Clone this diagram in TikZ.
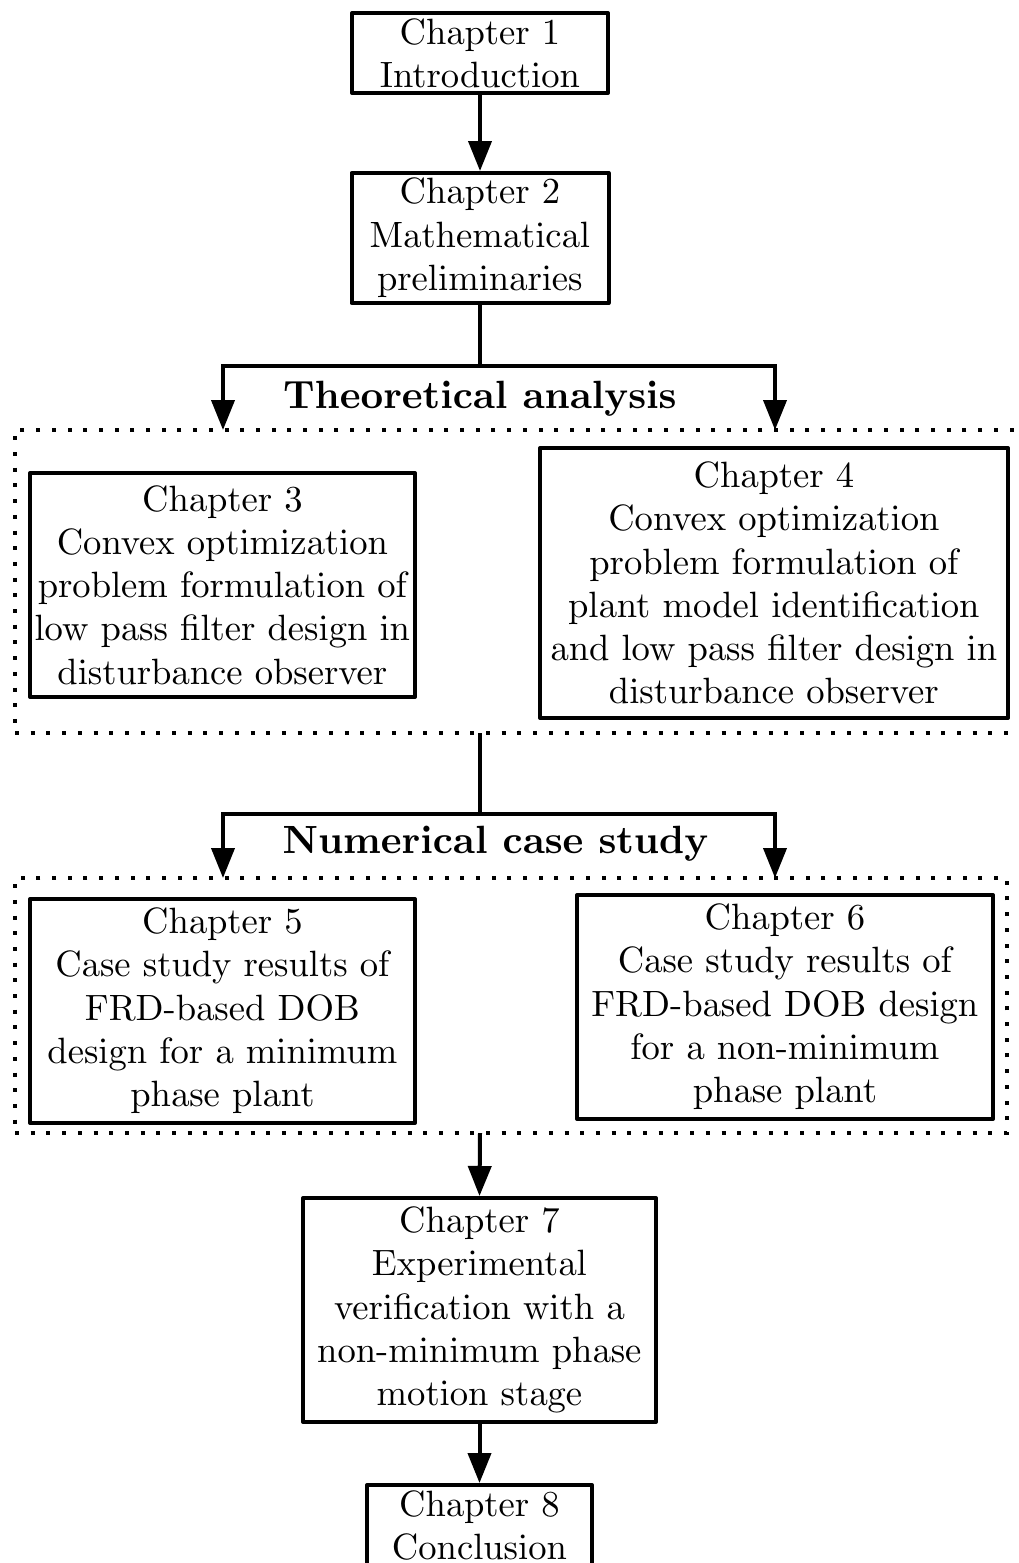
\documentclass[tikz,border=0pt]{standalone}
\usetikzlibrary{arrows.meta}
\font\chapfont=cmr10 at 18.3pt
\font\headfont=cmbx10 at 19.7pt
\begin{document}
\begin{tikzpicture}[x=0.5pt,y=-0.5pt,
  chap/.style={draw,line width=2pt,align=center,inner sep=0pt,line join=round,
    font=\fontsize{18.3}{21.6}\selectfont\chapfont},
  grp/.style={draw,line width=2pt,dash pattern=on 2pt off 5.85pt,inner sep=0pt},
  conn/.style={line width=2pt},
  arr/.style={conn,-{Triangle[width=11.5pt,length=15pt]}},
  head/.style={font=\headfont,anchor=base,inner sep=0pt}]
\useasboundingbox (0,0) rectangle (1018,1563);
% chapter boxes
\node[chap,minimum width=128pt,minimum height=40pt] (b1) at (480,53) {Chapter 1\\Introduction};
\node[chap,minimum width=128.5pt,minimum height=65pt] (b2) at (480,238) {Chapter 2\\Mathematical\\preliminaries};
\node[chap,minimum width=192.5pt,minimum height=112pt] (b3) at (222.5,585) {Chapter 3\\Convex optimization\\problem formulation of\\low pass filter design in\\disturbance observer};
\node[chap,minimum width=234pt,minimum height=135pt] (b4) at (774,583) {Chapter 4\\Convex optimization\\problem formulation of\\plant model identification\\and low pass filter design in\\disturbance observer};
\node[chap,minimum width=192.5pt,minimum height=112pt] (b5) at (222.5,1011) {Chapter 5\\Case study results of\\FRD-based DOB\\design for a minimum\\phase plant};
\node[chap,minimum width=208pt,minimum height=112pt] (b6) at (785,1007) {Chapter 6\\Case study results of\\FRD-based DOB design\\for a non-minimum\\phase plant};
\node[chap,minimum width=176.5pt,minimum height=112pt] (b7) at (479.5,1310) {Chapter 7\\Experimental\\verification with a\\non-minimum phase\\motion stage};
\node[chap,minimum width=112.5pt,minimum height=40pt] (b8) at (479.5,1525) {Chapter 8\\Conclusion};
% dotted groups
\node[grp,minimum width=507.5pt,minimum height=151.5pt] (g1) at (522.5,581.5) {};
\node[grp,minimum width=496pt,minimum height=127.5pt] (g2) at (511,1005.5) {};
% headings
\node[head] (h1) at (480,408) {Theoretical analysis};
\node[head] (h2) at (495.5,853) {Numerical case study};
% junctions
\coordinate (j1) at (480,366);
\coordinate (t3) at (223,430);
\coordinate (t4) at (775,430);
\coordinate (s1) at (480,733);
\coordinate (j2) at (480,814);
\coordinate (t5) at (223,878);
\coordinate (t6) at (775,878);
\coordinate (s2) at (480,1133);
% connectors
\draw[arr] (b1) -- (b2);
\draw[conn] (b2.south) -- (j1);
\draw[arr] (j1) -| (t3);
\draw[arr] (j1) -| (t4);
\draw[conn] (s1) -- (j2);
\draw[arr] (j2) -| (t5);
\draw[arr] (j2) -| (t6);
\draw[arr] (s2) -- (b7.north);
\draw[arr] (b7) -- (b8);
\end{tikzpicture}
\end{document}
